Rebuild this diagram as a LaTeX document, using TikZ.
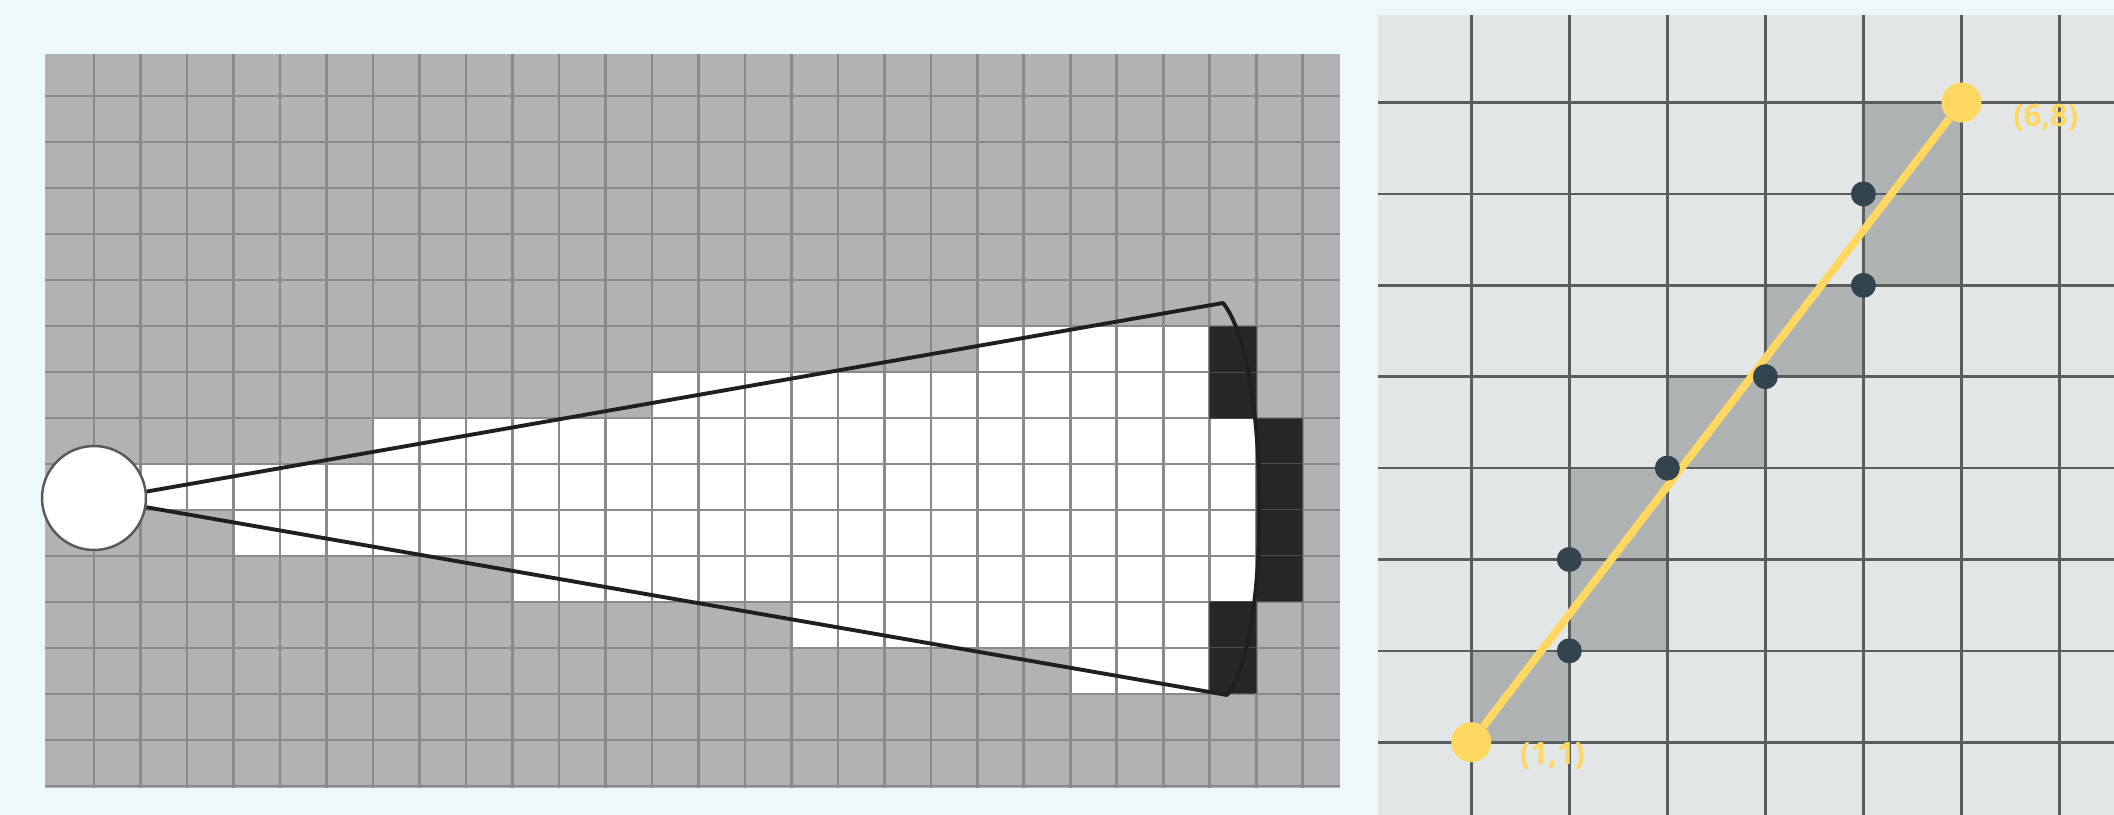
\documentclass[tikz,border=0pt]{standalone}
\usepackage{fontspec}
\usepackage{xcolor}
\usetikzlibrary{positioning}

\newfontfamily\labelfont{Open Sans}

\definecolor{bgcol}{HTML}{EDF8FB}
\definecolor{floorgray}{HTML}{B2B2B2}
\definecolor{linegray}{HTML}{8A8A8A}
\definecolor{edgeblack}{HTML}{262626}
\definecolor{tilegray}{HTML}{E2E6E7}
\definecolor{pixgray}{HTML}{AEB2B3}
\definecolor{rulegray}{HTML}{585E60}
\definecolor{lineyellow}{HTML}{FFD862}
\definecolor{hitslate}{HTML}{33444E}

\begin{document}
\begin{tikzpicture}[x=0.02cm,y=-0.02cm,
  floor/.style={fill=floorgray},
  gridline/.style={draw=linegray,line width=1.5pt},
  edgecell/.style={fill=edgeblack,draw=black!70,line width=0.5pt},
  beam/.style={draw=black!88,line width=2.2pt,line join=round},
  lamp/.style={circle,fill=white,draw=black!65,line width=1.4pt,minimum size=2.08cm,inner sep=0pt},
  tile/.style={fill=tilegray},
  pixel/.style={fill=pixgray},
  rline/.style={draw=rulegray,line width=1.5pt},
  endpt/.style={circle,fill=lineyellow,minimum size=0.8cm,inner sep=0pt},
  hitpt/.style={circle,fill=hitslate,minimum size=0.5cm,inner sep=0pt},
  segment/.style={draw=lineyellow,line width=4.4pt},
  coordlbl/.style={text=lineyellow,font=\labelfont\bfseries\fontsize{17.5}{17.5}\selectfont}]

\fill[bgcol] (0,0) rectangle (2114,815);
\useasboundingbox (0,0) rectangle (2114,815);

% light cone on the coarse raster
\begin{scope}[shift={(94,96)},x=0.93cm,y=-0.92cm]
\fill[floor] (-1.054,-0.924) rectangle (26.8,15.04);
\foreach \r/\a/\b in {5/19/24,6/12/24,7/6/25,8/0/25,9/3/25,10/9/25,11/15/24,12/21/24}
  \fill[white] (\a,\r) rectangle (\b,\r+1);
\foreach \i in {0,...,26}
  \draw[gridline] (\i,-0.924) -- (\i,15.04);
\foreach \j in {0,...,15}
  \draw[gridline] (-1.054,\j) -- (26.8,\j);
\foreach \r/\b in {5/24,6/24,7/25,8/25,9/25,10/25,11/24,12/24}
  \fill[edgecell] (\b,\r) rectangle (\b+1,\r+1);
\end{scope}

\node[lamp] (src) at (94,498) {};
\coordinate (tipN) at (1223,303);
\coordinate (tipS) at (1227,695);
\draw[beam] (src.7) -- (tipN) .. controls (1270,360) and (1272,640) .. (tipS) -- (src.-10);

% line from (1,1) to (6,8)
\begin{scope}
\clip (1378,15.6) rectangle (2114,815);
\begin{scope}[shift={(1373.25,833.6)},x=1.961cm,y=1.828cm]
\fill[tile] (0,0) rectangle (8,10);
\foreach \c/\r in {1/1,2/2,2/3,3/4,4/5,5/6,5/7}
  \fill[pixel] (\c,\r) rectangle ++(1,1);
\foreach \i in {1,...,7}
  \draw[rline] (\i,0) -- (\i,10);
\foreach \j in {1,...,9}
  \draw[rline] (0,\j) -- (8,\j);

\node[endpt] (p11) at (1,1) {};
\node[endpt] (p68) at (6,8) {};
\draw[segment] (p11) -- (p68);

\foreach \c/\r in {2/2,2/3,3/4,4/5,5/6,5/7}
  \node[hitpt] (h\c\r) at (\c,\r) {};

\node[coordlbl] (l11) at (1.83,0.85) {(1,1)};
\node[coordlbl] (l68) at (6.86,7.83) {(6,8)};
\end{scope}
\end{scope}

\end{tikzpicture}
\end{document}
